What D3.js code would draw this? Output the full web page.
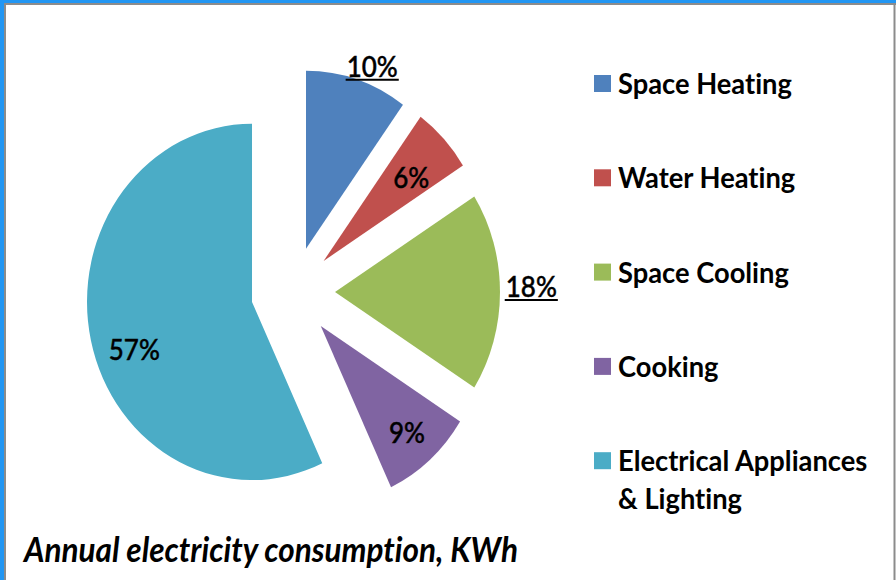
<!DOCTYPE html>
<html><head><meta charset="utf-8">
<script src="https://cdn.jsdelivr.net/npm/d3@7/dist/d3.min.js"></script>
<style>body{margin:0;background:#fff}svg{display:block}text{font-variant-ligatures:none;font-feature-settings:"liga" 0}</style>
</head><body>
<svg id="c" width="896" height="580"></svg>
<script>
const categories = ["Space Heating", "Water Heating", "Space Cooling", "Cooking", "Electrical Appliances & Lighting"];
const values = [10, 6, 18, 9, 57];
const valueLabels = ["10%", "6%", "18%", "9%", "57%"];
const colors = ["#4F81BD", "#C0504D", "#9BBB59", "#8064A2", "#4BACC6"];
const legendLines = [["Space Heating"], ["Water Heating"], ["Space Cooling"], ["Cooking"], ["Electrical Appliances", "& Lighting"]];
const title = "Annual electricity consumption, KWh";

// layout
const W = 896, H = 580;
const cx = 293, cy = 292, r = 165, sy = 1.08, explode = 42;
const labelK = [1.10, 0.71, 1.19, 0.79, 0.76];
const labelDA = [3.4, 1.6, -1.5, 0, -7.6];
const underlined = [true, false, true, false, false];
const FONT = "Lato, 'Open Sans', sans-serif";

const svg = d3.select("#c");

// frame
svg.append("rect").attr("x",0).attr("y",0).attr("width",W).attr("height",H).attr("fill","#fff");
svg.append("rect").attr("x",0).attr("y",0).attr("width",W).attr("height",3).attr("fill","#2196F3");
svg.append("rect").attr("x",0).attr("y",0).attr("width",4).attr("height",H).attr("fill","#2196F3");
svg.append("line").attr("x1",5).attr("x2",5).attr("y1",3).attr("y2",H).attr("stroke","#8c8c8c").attr("stroke-width",2);
svg.append("line").attr("x1",4).attr("x2",W).attr("y1",4).attr("y2",4).attr("stroke","#8c8c8c").attr("stroke-width",2);
svg.append("line").attr("x1",894.5).attr("x2",894.5).attr("y1",4).attr("y2",H).attr("stroke","#8c8c8c").attr("stroke-width",2);

const pie = d3.pie().sort(null).value(d => d)(values);
const arc = d3.arc().innerRadius(0).outerRadius(r);

const g = svg.append("g").attr("transform", `translate(${cx},${cy}) scale(1,${sy})`);
pie.forEach((p, i) => {
  const mid = (p.startAngle + p.endAngle) / 2;
  const ox = explode * Math.sin(mid), oy = -explode * Math.cos(mid);
  g.append("path")
    .attr("d", arc(p))
    .attr("transform", `translate(${ox},${oy})`)
    .attr("fill", colors[i]);
});

function stext(x, y) {
  return svg.append("g").attr("transform", `translate(${x},${y}) scale(1,${sy})`).append("text");
}

// labels
pie.forEach((p, i) => {
  const mid = (p.startAngle + p.endAngle) / 2;
  const a = mid + labelDA[i] * Math.PI / 180;
  const ax = cx + explode * Math.sin(mid), ay = cy - explode * Math.cos(mid) * sy;
  const lx = ax + labelK[i] * r * Math.sin(a);
  const ly = ay - labelK[i] * r * Math.cos(a) * sy;
  const t = stext(lx, ly)
    .attr("text-anchor", "middle").attr("dominant-baseline", "central")
    .attr("font-family", FONT).attr("font-weight", 500)
    .attr("font-size", 26).attr("fill", "#000")
    .attr("stroke", "#000").attr("stroke-width", 0.4)
    .text(valueLabels[i]);
  if (underlined[i]) {
    const bb = t.node().getBBox();
    svg.append("line")
      .attr("x1", lx + bb.x - 1).attr("x2", lx + bb.x + bb.width + 1)
      .attr("y1", ly + 13.5).attr("y2", ly + 13.5)
      .attr("stroke", "#000").attr("stroke-width", 2);
  }
});

// legend
const legX = 594, legY0 = 82.5, legStep = 94.3;
categories.forEach((c, i) => {
  const y = legY0 + i * legStep;
  svg.append("rect").attr("x", legX).attr("y", y - 7.5).attr("width", 17).attr("height", 17).attr("fill", colors[i]);
  legendLines[i].forEach((ln, j) => {
    stext(legX + 24, y + j * 38)
      .attr("dominant-baseline", "central")
      .attr("font-family", FONT)
      .attr("font-weight", "bold").attr("font-size", 27.3).attr("fill", "#000")
      .text(ln);
  });
});

// title
stext(24, 562)
  .attr("font-family", FONT)
  .attr("font-weight", "bold").attr("font-style", "italic")
  .attr("font-size", 31.5).attr("fill", "#000")
  .text(title);
</script>
</body></html>
